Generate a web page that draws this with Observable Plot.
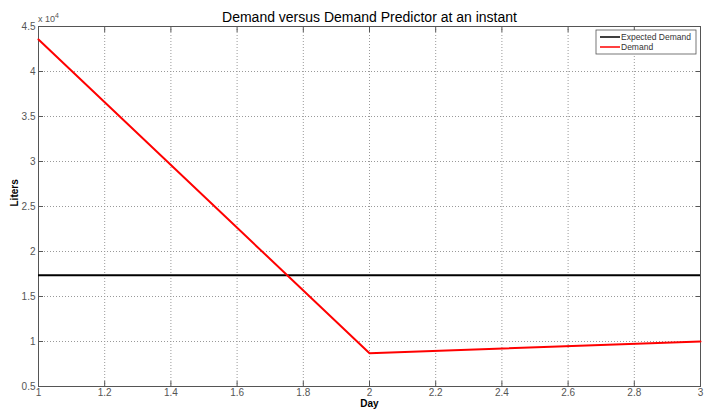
<!DOCTYPE html>
<html><head><meta charset="utf-8">
<script src="https://cdn.jsdelivr.net/npm/d3@7"></script>
<script src="https://cdn.jsdelivr.net/npm/@observablehq/plot@0.6"></script>
<style>body{margin:0;background:#fff;font-family:"Liberation Sans",Arial,sans-serif}</style>
</head><body><div id="chart"></div>
<script>
const days = [1, 2, 3];
const demand = [43550, 8700, 10000];
const expectedDemand = 17370;
const xTicks = [1, 1.2, 1.4, 1.6, 1.8, 2, 2.2, 2.4, 2.6, 2.8, 3];
const yTicks = [5000, 10000, 15000, 20000, 25000, 30000, 35000, 40000, 45000];
const title = "Demand versus Demand Predictor at an instant";
const seriesNames = ["Expected Demand", "Demand"];
const seriesColors = ["#000000", "#ff0000"];

const demandData = days.map((d, i) => ({day: d, value: demand[i]}));
const fmtY = v => String(v / 10000);

const plot = Plot.plot({
  width: 704, height: 412,
  marginLeft: 38, marginRight: 4, marginTop: 26, marginBottom: 26,
  style: {fontFamily: "Liberation Sans, Arial, sans-serif", fontSize: "10px", background: "#fff", overflow: "visible"},
  x: {domain: [1, 3]},
  y: {domain: [5000, 45000]},
  marks: [
    Plot.gridX(xTicks, {stroke: "#999", strokeOpacity: 1, strokeDasharray: "1,2"}),
    Plot.gridY(yTicks, {stroke: "#999", strokeOpacity: 1, strokeDasharray: "1,2"}),
    Plot.axisX({ticks: xTicks, tickSize: -5, tickPadding: 7, tickFormat: d => String(+d.toFixed(1)), label: null, fill: "#555", stroke: "#555"}),
    Plot.axisX({anchor: "top", ticks: xTicks, tickSize: -5, text: null, label: null, stroke: "#555"}),
    Plot.axisY({ticks: yTicks, tickSize: -5, tickPadding: 8, tickFormat: fmtY, label: null, fill: "#555", stroke: "#555"}),
    Plot.axisY({anchor: "right", ticks: yTicks, tickSize: -5, text: null, label: null, stroke: "#555"}),
    Plot.frame({stroke: "#555"}),
    Plot.ruleY([expectedDemand], {stroke: seriesColors[0], strokeWidth: 2}),
    Plot.line(demandData, {x: "day", y: "value", stroke: seriesColors[1], strokeWidth: 2}),
    Plot.text([title], {frameAnchor: "top", dy: -14, fontSize: 14, fill: "#000", text: d => d}),
    Plot.text(["Day"], {frameAnchor: "bottom", dy: 20, fontSize: 10, fontWeight: "bold", fill: "#000", text: d => d}),
    Plot.text(["Liters"], {frameAnchor: "left", dx: -24, rotate: -90, fontSize: 10, fontWeight: "bold", fill: "#000", text: d => d})
  ]
});
document.getElementById("chart").appendChild(plot);

// multiplier and legend
const svg = d3.select(plot);
const mult = svg.append("text").attr("x", 38).attr("y", 22).attr("fill", "#555").attr("font-size", 9).attr("text-anchor", "start");
mult.append("tspan").text("x 10");
mult.append("tspan").attr("dy", -4).attr("font-size", 7).text("4");

const lg = svg.append("g").attr("transform", "translate(596,30)");
lg.append("rect").attr("width", 100).attr("height", 24).attr("fill", "#fff").attr("stroke", "#555").attr("stroke-width", 0.8);
seriesNames.forEach((n, i) => {
  const y = 7 + i * 10;
  lg.append("line").attr("x1", 4).attr("x2", 24).attr("y1", y).attr("y2", y).attr("stroke", seriesColors[i]).attr("stroke-width", 1.5);
  lg.append("text").attr("x", 25).attr("y", y + 3).attr("font-size", 8.5).attr("fill", "#333").attr("text-anchor", "start").attr("font-family", "Liberation Sans, Arial, sans-serif").text(n);
});
</script></body></html>
